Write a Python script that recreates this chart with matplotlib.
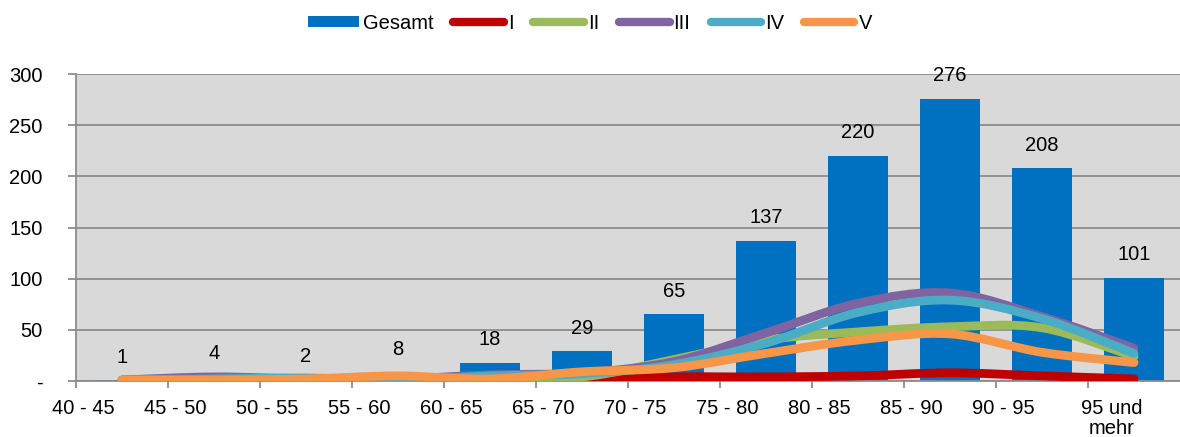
import numpy as np
import matplotlib
matplotlib.use('Agg')
import matplotlib.pyplot as plt
from matplotlib.path import Path
from matplotlib.patches import PathPatch, Patch
from matplotlib.lines import Line2D

plt.rcParams['font.family'] = ['Liberation Sans', 'DejaVu Sans']

categories = ['40 - 45', '45 - 50', '50 - 55', '55 - 60', '60 - 65', '65 - 70',
              '70 - 75', '75 - 80', '80 - 85', '85 - 90', '90 - 95', '95 und\nmehr']
gesamt = [1, 4, 2, 8, 18, 29, 65, 137, 220, 276, 208, 101]
s_I = [0, 0, 0, 0, 0, 1, 4, 4, 5, 8, 5, 2]
s_II = [1, 1, 2, 1, 3, 4, 21, 40, 48, 53, 52, 24]
s_III = [1, 4, 2, 2, 6, 8, 19, 47, 76, 86, 63, 32]
s_IV = [1, 2, 3, 1, 5, 7, 16, 37, 67, 79, 61, 27]
s_V = [1, 1, 2, 5, 2, 9, 13, 27, 40, 46, 28, 18]

series = [('I', s_I, '#C00000'), ('II', s_II, '#9BBB59'), ('III', s_III, '#8064A2'),
          ('IV', s_IV, '#4BACC6'), ('V', s_V, '#F79646')]

BLUE = '#0070C0'
GRID = '#8C8C8C'
FS = 14.5


def smooth_path(xs, ys):
    # Excel-like smoothed line: cubic bezier with catmull-rom control points
    pts = np.column_stack([xs, ys]).astype(float)
    n = len(pts)
    verts = [pts[0]]
    codes = [Path.MOVETO]
    for i in range(n - 1):
        p0 = pts[max(i - 1, 0)]
        p1 = pts[i]
        p2 = pts[i + 1]
        p3 = pts[min(i + 2, n - 1)]
        c1 = p1 + (p2 - p0) / 6.0
        c2 = p2 - (p3 - p1) / 6.0
        verts += [c1, c2, p2]
        codes += [Path.CURVE4] * 3
    return Path(verts, codes)


fig = plt.figure(figsize=(11.8, 4.37), dpi=100)
ax = fig.add_axes([76 / 1180, 1 - 381 / 437, 1104 / 1180, 307 / 437])
ax.set_facecolor('#D9D9D9')

x = np.arange(len(categories))
bars = ax.bar(x, gesamt, width=0.66, color=BLUE, zorder=2)
for xi, v in zip(x, gesamt):
    ax.annotate(str(v), (xi, v), xytext=(0, 16.5), textcoords='offset points',
                ha='center', va='center', fontsize=FS, color='black')

for name, vals, col in series:
    patch = PathPatch(smooth_path(x, vals), facecolor='none', edgecolor=col,
                      linewidth=6.3, capstyle='round', joinstyle='round', zorder=3)
    ax.add_patch(patch)

ax.set_xlim(-0.5, len(categories) - 0.5)
ax.set_ylim(0, 300)
ax.set_yticks([0, 50, 100, 150, 200, 250, 300])
ax.set_yticklabels(['-', '50', '100', '150', '200', '250', '300'], fontsize=FS)
ax.yaxis.grid(True, color=GRID, linewidth=1.3, zorder=1)
ax.set_axisbelow(True)

# category labels sit near the boundary ticks, as in the original
lab_x = x - 0.5 + 0.08
lab_x[-1] += 0.18
ax.set_xticks(lab_x)
ax.set_xticklabels(categories, fontsize=FS, linespacing=1.08, va='top')
ax.set_xticks(np.arange(len(categories)) - 0.5, minor=True)
ax.tick_params(axis='x', which='major', length=0, pad=13)
ax.tick_params(axis='x', which='minor', length=5, width=1.3, color=GRID, direction='out')
ax.tick_params(axis='y', length=6, width=1.3, color=GRID, direction='out', pad=18)

for side in ['top', 'right']:
    ax.spines[side].set_visible(False)
for side in ['left', 'bottom']:
    ax.spines[side].set_color(GRID)
    ax.spines[side].set_linewidth(1.3)

handles = [Patch(facecolor=BLUE, label='Gesamt')]
for name, vals, col in series:
    handles.append(Line2D([0], [0], color=col, linewidth=6,
                          solid_capstyle='round', label=name))
fig.legend(handles=handles, loc='center', bbox_to_anchor=(0.5, 0.947), ncol=6,
           frameon=False, fontsize=FS, handlelength=2.5, handletextpad=0.2,
           columnspacing=1.0, handleheight=0.5)

fig.savefig('out.png', dpi=100)
